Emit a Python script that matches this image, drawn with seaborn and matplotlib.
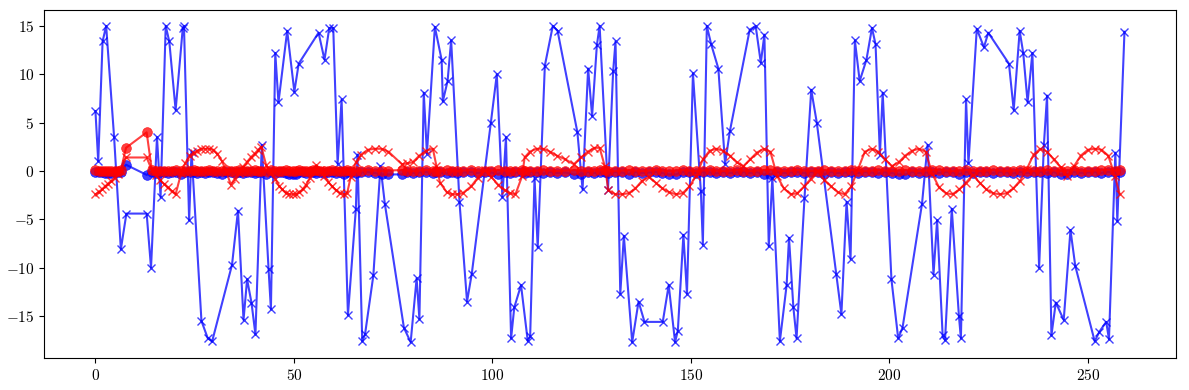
import matplotlib
matplotlib.use("Agg")
import matplotlib.pyplot as plt
import seaborn as sns

# blue "x" series (wide swings, clipped near +15)
blue_x_pos = [0.0, 0.7, 1.8, 2.7, 4.7, 6.4, 7.8, 12.9, 14.0, 15.5,
              16.4, 17.7, 18.6, 20.2, 22.0, 22.3, 23.6, 24.2, 26.7, 28.3,
              29.4, 34.4, 35.9, 37.3, 38.2, 39.3, 40.3, 41.9, 43.6, 44.2,
              45.3, 46.1, 48.3, 50.1, 51.2, 56.2, 57.7, 58.9, 59.9, 61.0,
              62.0, 63.6, 65.6, 66.0, 67.2, 67.9, 70.0, 71.8, 72.9, 77.7,
              79.4, 80.9, 81.6, 82.7, 83.5, 85.5, 87.2, 87.5, 88.7, 89.6,
              91.7, 93.6, 94.8, 99.6, 101.1, 102.5, 103.4, 104.7, 105.5, 107.2,
              108.9, 109.5, 110.6, 111.4, 113.2, 115.2, 116.4, 121.4, 122.7, 124.1,
              125.1, 126.3, 127.0, 129.1, 130.4, 131.0, 132.2, 133.1, 135.2, 136.8,
              138.3, 142.9, 144.4, 146.0, 146.7, 148.1, 149.0, 150.5, 152.5, 153.0,
              154.0, 155.1, 156.9, 158.6, 159.8, 164.8, 166.3, 167.6, 168.5, 169.6,
              170.5, 172.4, 174.1, 174.7, 175.8, 176.6, 178.6, 180.3, 181.7, 186.6,
              187.9, 189.2, 190.2, 191.3, 192.5, 194.2, 195.6, 196.5, 197.6, 198.3,
              200.5, 202.2, 203.3, 208.2, 209.6, 211.1, 212.0, 213.4, 214.0, 215.7,
              217.5, 218.0, 219.3, 219.9, 222.0, 223.8, 224.9, 230.1, 231.3, 232.8,
              233.7, 234.8, 236.0, 237.7, 238.9, 239.7, 240.8, 241.9, 243.9, 245.6,
              246.8, 251.7, 252.9, 254.6, 255.3, 256.9, 257.4, 259.2]
blue_x_val = [6.2, 1.0, 13.4, 15.0, 3.5, -8.1, -4.4, -4.4, -10.0, 3.5,
              -2.7, 15.0, 13.4, 6.3, 14.8, 15.0, -5.1, 2.0, -15.5, -17.3,
              -17.6, -9.7, -4.1, -15.4, -11.2, -13.6, -16.9, 2.7, -10.1, -14.3,
              12.2, 7.1, 14.5, 8.2, 11.1, 14.3, 11.5, 14.8, 14.8, 0.75,
              7.4, -14.9, -3.9, 1.7, -17.6, -16.9, -10.8, 0.5, -3.4, -16.2,
              -17.7, -11.1, -15.3, 8.1, 1.8, 14.9, 11.5, 7.2, 9.3, 13.5,
              -3.2, -13.5, -10.6, 5.0, 10.0, -2.7, 3.5, -17.3, -14.1, -11.8,
              -17.6, -17.1, -0.7, -7.9, 10.9, 15.0, 14.5, 4.0, -1.9, 10.6,
              5.7, 13.0, 15.0, -2.0, 10.3, 13.4, -12.7, -6.7, -17.7, -13.5,
              -15.6, -15.6, -11.8, -17.7, -16.5, -6.6, -12.7, 10.1, -2.1, -7.6,
              15.0, 13.1, 10.6, 0.75, 4.1, 14.6, 15.0, 11.2, 14.1, -7.8,
              -0.7, -17.6, -11.8, -6.9, -14.1, -17.3, -2.8, 8.4, 5.0, -10.6,
              -14.8, -3.2, -9.1, 13.5, 9.3, 11.5, 14.8, 13.1, 1.7, 8.1,
              -11.2, -17.3, -16.2, -3.4, 2.7, -10.7, -5.1, -17.0, -17.5, -3.9,
              -15.0, -17.3, 7.4, 0.8, 14.7, 12.8, 14.3, 11.1, 6.3, 14.5,
              12.2, 7.1, 12.2, -10.0, 2.7, 7.8, -17.0, -13.6, -15.4, -6.1,
              -9.8, -17.6, -16.6, -15.6, -17.4, 1.9, -5.2, 14.4]

# dense positions shared by the red "x", red "o" and blue "o" series
dense_pos = [0.0, 0.8, 1.6, 2.4, 3.2, 4.0, 4.8, 5.6, 6.4, 7.7,
             12.9, 14.2, 15.2, 16.2, 17.2, 18.2, 19.2, 20.2, 21.6, 22.6,
             23.7, 24.7, 25.7, 26.7, 27.7, 28.7, 29.7, 30.7, 31.9, 32.9,
             34.1, 35.1, 36.1, 37.1, 38.1, 39.1, 40.1, 41.0, 41.8, 43.0,
             44.1, 45.3, 46.2, 47.0, 48.0, 48.8, 49.7, 50.5, 51.3, 52.2,
             53.1, 54.0, 54.8, 55.6, 56.6, 57.6, 58.6, 59.6, 60.6, 61.6,
             62.6, 63.4, 64.3, 65.6, 66.9, 68.6, 70.4, 72.1, 73.8, 77.2,
             78.6, 79.9, 81.6, 83.3, 85.0, 85.9, 86.8, 88.5, 89.8, 91.1,
             92.5, 94.6, 96.3, 98.0, 99.7, 101.4, 103.1, 104.5, 105.8, 107.5,
             108.1, 109.4, 111.1, 112.8, 114.5, 116.2, 118.4, 120.5, 122.3, 124.0,
             125.7, 127.0, 128.3, 129.2, 130.9, 132.6, 134.3, 136.0, 137.7, 139.4,
             141.1, 142.8, 144.5, 146.2, 147.9, 149.6, 151.3, 153.0, 154.7, 156.4,
             158.1, 159.8, 161.5, 163.2, 164.9, 166.6, 168.3, 170.0, 171.7, 173.4,
             175.1, 176.8, 178.5, 180.2, 181.9, 183.6, 185.3, 187.0, 188.7, 190.4,
             192.1, 193.8, 195.5, 197.2, 198.9, 200.6, 202.3, 204.0, 205.7, 207.4,
             209.1, 210.8, 212.5, 214.2, 215.9, 217.6, 219.3, 221.0, 222.7, 224.4,
             226.1, 227.8, 229.5, 231.2, 232.9, 234.6, 236.3, 238.0, 239.7, 241.4,
             243.1, 244.8, 246.5, 248.2, 250.0, 251.7, 253.4, 255.1, 256.8, 258.0]
red_x_val = [-2.4, -2.2, -1.9, -1.6, -1.3, -1.0, -0.7, -0.3, 0.0, 1.4,
             1.4, 0.1, -0.4, -0.9, -1.3, -1.7, -2.1, -2.4, -0.2, 0.8,
             1.6, 1.9, 2.1, 2.3, 2.3, 2.3, 2.2, 1.8, 1.0, 0.0,
             -1.4, -0.8, -0.2, 0.4, 0.9, 1.4, 1.8, 2.2, 2.5, 0.6,
             -0.2, -0.8, -1.5, -1.9, -2.3, -2.4, -2.4, -2.4, -2.2, -1.9,
             -1.4, -0.7, 0.0, 0.6, 0.1, -0.5, -1.1, -1.6, -2.0, -2.3,
             -2.4, -2.3, -0.6, 0.9, 1.7, 2.2, 2.3, 2.3, 2.0, 0.7,
             0.8, 0.9, 1.6, 2.1, 2.3, 0.5, -1.2, -2.2, -2.4, -2.4,
             -2.3, -1.6, -0.7, 0.1, -0.6, -1.4, -2.0, -2.3, -2.4, -0.5,
             1.4, 2.0, 2.3, 2.3, 2.0, 1.6, 1.2, 0.7, 1.4, 2.0,
             2.4, 2.4, 0.5, -2.0, -2.4, -2.4, -2.3, -1.8, -1.0, -0.6,
             -1.2, -1.8, -2.2, -2.4, -2.3, -1.6, -0.5, 1.2, 2.1, 2.3,
             2.1, 1.6, 0.9, 0.5, 1.2, 1.9, 2.3, 2.0, -0.5, -1.8,
             -2.4, -2.3, -1.6, -0.8, 0.0, -0.9, -1.6, -2.2, -2.4, -1.6,
             0.2, 2.0, 2.3, 2.0, 1.2, 0.5, 0.9, 1.6, 2.1, 2.3,
             2.0, -0.3, -1.7, -2.3, -2.4, -1.9, -1.2, -0.4, -1.2, -1.9,
             -2.3, -2.4, -2.3, -1.8, -1.0, 0.2, 1.7, 2.3, 2.0, 1.2,
             0.4, -0.5, 0.5, 1.6, 2.2, 2.3, 2.2, 1.6, -0.5, -2.4]
red_o_val = [0.1, 0.05, 0.05, 0.0, 0.0, 0.05, 0.0, 0.05, 0.1, 2.4,
             4.0, 0.1, 0.05, 0.0, 0.05, 0.0, 0.05, 0.1, 0.05, 0.0,
             0.05, 0.1, 0.05, 0.0, 0.05, 0.1, 0.05, 0.0, 0.05, 0.1,
             0.0, 0.05, 0.1, 0.05, 0.0, 0.05, 0.1, 0.05, 0.0, 0.05,
             0.1, 0.05, 0.0, 0.05, 0.1, 0.05, 0.0, 0.05, 0.1, 0.05,
             0.0, 0.05, 0.1, 0.15, 0.05, 0.0, 0.05, 0.1, 0.05, 0.0,
             0.05, 0.1, 0.05, 0.0, 0.05, 0.1, 0.05, 0.0, 0.05, 0.1,
             0.05, 0.0, 0.05, 0.1, 0.05, 0.0, 0.05, 0.1, 0.05, 0.0,
             0.05, 0.1, 0.05, 0.0, 0.05, 0.1, 0.05, 0.0, 0.05, 0.1,
             0.05, 0.0, 0.05, 0.1, 0.05, 0.0, 0.05, 0.1, 0.05, 0.0,
             0.05, 0.1, 0.15, 0.05, 0.0, 0.05, 0.1, 0.05, 0.0, 0.05,
             0.1, 0.05, 0.0, 0.05, 0.1, 0.05, 0.0, 0.05, 0.1, 0.05,
             0.0, 0.05, 0.1, 0.05, 0.0, 0.05, 0.1, 0.15, 0.05, 0.0,
             0.05, 0.1, 0.05, 0.0, 0.05, 0.1, 0.05, 0.0, 0.05, 0.1,
             0.05, 0.0, 0.05, 0.1, 0.05, 0.0, 0.05, 0.1, 0.05, 0.0,
             0.05, 0.1, 0.15, 0.05, 0.0, 0.05, 0.1, 0.05, 0.0, 0.05,
             0.1, 0.05, 0.0, 0.05, 0.1, 0.05, 0.0, 0.05, 0.1, 0.05,
             0.0, 0.05, 0.1, 0.05, 0.0, 0.05, 0.1, 0.15, 0.05, 0.1]
blue_o_val = [-0.1, -0.15, -0.1, -0.2, -0.25, -0.2, -0.15, -0.1, -0.05, 0.65,
              -0.4, -0.1, -0.2, -0.15, -0.1, -0.2, -0.1, -0.15, -0.3, -0.1,
              -0.15, -0.1, -0.2, -0.1, -0.25, -0.15, -0.1, -0.2, -0.3, -0.1,
              -0.15, -0.2, -0.1, -0.25, -0.15, -0.1, -0.2, -0.1, -0.15, -0.3,
              -0.1, -0.2, -0.15, -0.1, -0.2, -0.35, -0.35, -0.35, -0.1, -0.15,
              -0.2, -0.1, -0.15, -0.25, -0.1, -0.2, -0.15, -0.1, -0.2, -0.1,
              -0.3, -0.15, -0.1, -0.2, -0.15, -0.1, -0.2, -0.35, -0.35, -0.35,
              -0.1, -0.2, -0.15, -0.1, -0.2, -0.1, -0.15, -0.25, -0.1, -0.2,
              -0.15, -0.1, -0.2, -0.1, -0.15, -0.3, -0.1, -0.2, -0.15, -0.1,
              -0.2, -0.1, -0.15, -0.25, -0.1, -0.2, -0.15, -0.35, -0.35, -0.1,
              -0.2, -0.15, -0.1, -0.2, -0.1, -0.15, -0.3, -0.1, -0.2, -0.15,
              -0.1, -0.2, -0.35, -0.35, -0.1, -0.15, -0.2, -0.1, -0.15, -0.25,
              -0.1, -0.2, -0.15, -0.1, -0.2, -0.1, -0.35, -0.35, -0.1, -0.2,
              -0.15, -0.1, -0.2, -0.1, -0.15, -0.3, -0.1, -0.2, -0.15, -0.1,
              -0.2, -0.1, -0.15, -0.25, -0.1, -0.2, -0.35, -0.35, -0.1, -0.2,
              -0.15, -0.1, -0.2, -0.1, -0.15, -0.3, -0.1, -0.2, -0.15, -0.1,
              -0.2, -0.1, -0.15, -0.25, -0.1, -0.2, -0.15, -0.1, -0.2, -0.1,
              -0.35, -0.35, -0.1, -0.2, -0.15, -0.1, -0.2, -0.1, -0.15, -0.1]

plt.rcParams.update({
    "font.family": "serif",
    "font.serif": ["cmr10", "DejaVu Serif"],
    "mathtext.fontset": "cm",
    "axes.formatter.use_mathtext": True,
    "font.size": 11,
})

fig, ax = plt.subplots(figsize=(11.89, 3.9), dpi=100)

common = dict(ax=ax, estimator=None, sort=False, alpha=0.75, linewidth=1.5)
sns.lineplot(x=blue_x_pos, y=blue_x_val, color="blue", marker="x",
             markersize=6, markeredgecolor="blue", markeredgewidth=1.0, **common)
sns.lineplot(x=dense_pos, y=blue_o_val, color="blue", marker="o",
             markersize=7, markeredgecolor="blue", markeredgewidth=0.5, **common)
sns.lineplot(x=dense_pos, y=red_x_val, color="red", marker="x",
             markersize=6, markeredgecolor="red", markeredgewidth=1.0, **common)
sns.lineplot(x=dense_pos, y=red_o_val, color="red", marker="o",
             markersize=7, markeredgecolor="red", markeredgewidth=0.5, **common)

ax.set_yticks([-15, -10, -5, 0, 5, 10, 15])
fig.subplots_adjust(left=0.037, right=0.989, top=0.974, bottom=0.082)
fig.savefig("out.png", dpi=100)
